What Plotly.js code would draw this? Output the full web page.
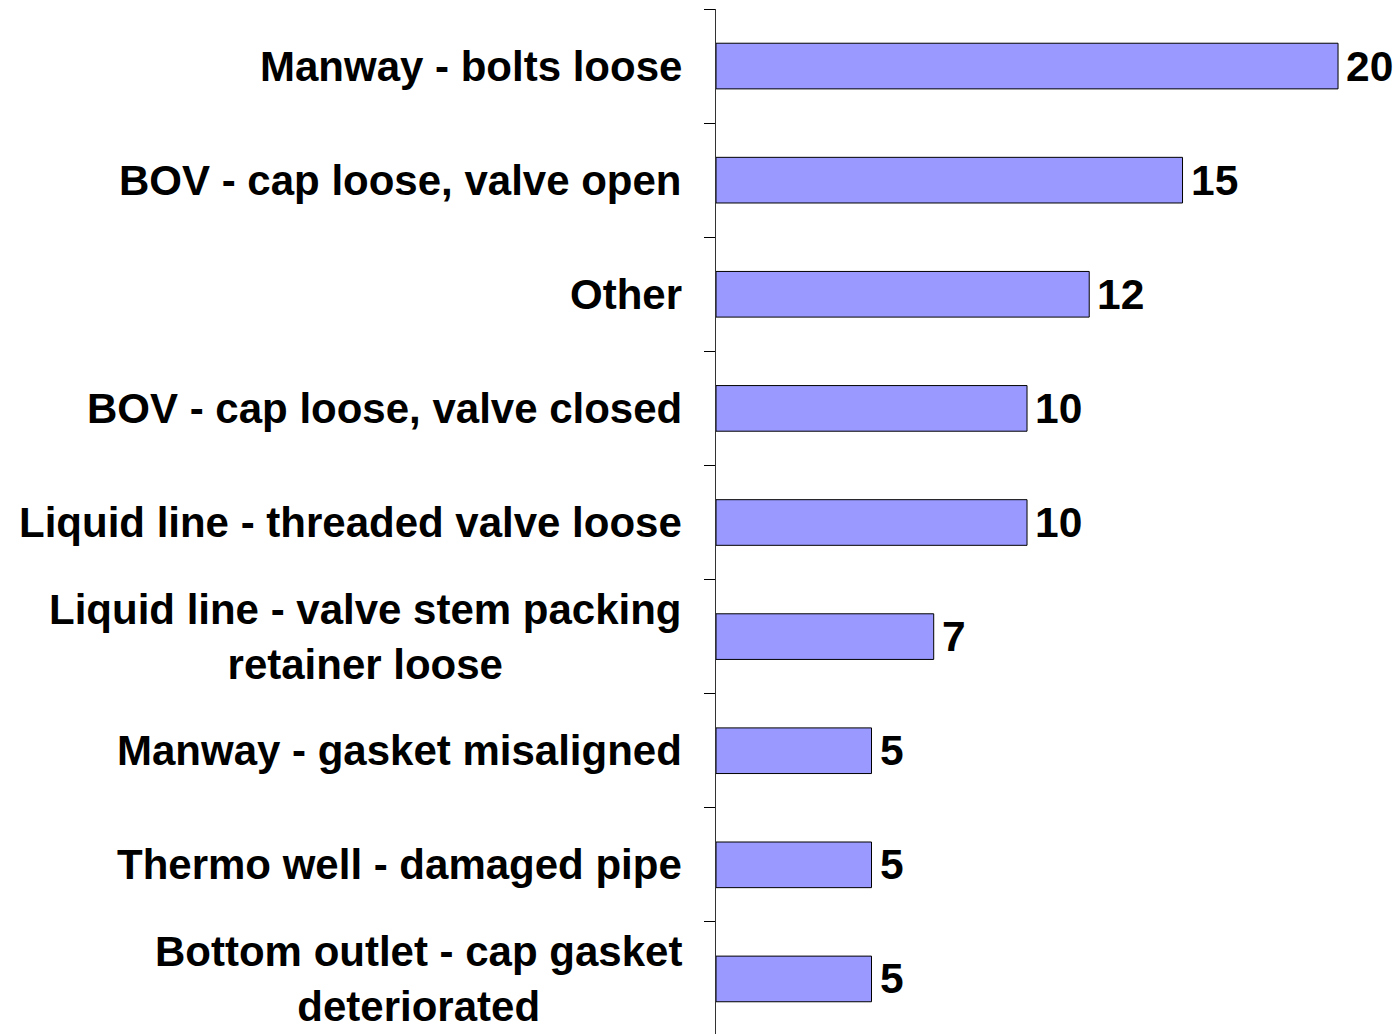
<!DOCTYPE html>
<html>
<head>
<meta charset="utf-8">
<script src="https://cdn.plot.ly/plotly-3.0.1.min.js"></script>
<style>html,body{margin:0;padding:0;background:#fff;}#chart{width:1399px;height:1034px;}</style>
</head>
<body>
<div id="chart"></div>
<script>
const categories = [
  "Manway - bolts loose",
  "BOV - cap loose, valve open",
  "Other",
  "BOV - cap loose, valve closed",
  "Liquid line - threaded valve loose",
  "Liquid line - valve stem packing<br>retainer loose",
  "Manway - gasket misaligned",
  "Thermo well - damaged pipe",
  "Bottom outlet - cap gasket<br>deteriorated"
];
const values = [20, 15, 12, 10, 10, 7, 5, 5, 5];

const FONT = '"Liberation Sans", Arial, sans-serif';

const trace = {
  type: 'bar',
  orientation: 'h',
  y: categories,
  x: values,
  marker: { color: '#9999FF', line: { color: '#000000', width: 1 } },
  hoverinfo: 'none'
};

const annotations = [];
categories.forEach((c, i) => {
  annotations.push({
    xref: 'paper', yref: 'y', x: 0, y: c,
    xanchor: 'right', yanchor: 'middle', xshift: -32,
    text: '<b>' + c + '</b>', showarrow: false, align: 'center',
    font: { family: FONT, size: 42, color: '#000' }
  });
  annotations.push({
    xref: 'x', yref: 'y', x: values[i], y: c,
    xanchor: 'left', yanchor: 'middle', xshift: 6,
    text: '<b>' + values[i] + '</b>', showarrow: false,
    font: { family: FONT, size: 42.5, color: '#000' }
  });
});

const layout = {
  width: 1399, height: 1034,
  margin: { l: 716, r: 0, t: 9, b: 0, pad: 0 },
  paper_bgcolor: '#ffffff', plot_bgcolor: '#ffffff',
  showlegend: false,
  bargap: 0.6,
  font: { family: FONT },
  xaxis: { range: [0, 21.96], visible: false, fixedrange: true },
  yaxis: {
    type: 'category',
    range: [8.4825, -0.5],
    showline: true, linecolor: '#333333', linewidth: 1,
    ticks: 'outside', tickson: 'boundaries', ticklen: 11, tickcolor: '#000', tickwidth: 1,
    showticklabels: false, showgrid: false, zeroline: false, fixedrange: true
  },
  annotations: annotations
};

Plotly.newPlot('chart', [trace], layout, { staticPlot: true, displayModeBar: false });
</script>
</body>
</html>
